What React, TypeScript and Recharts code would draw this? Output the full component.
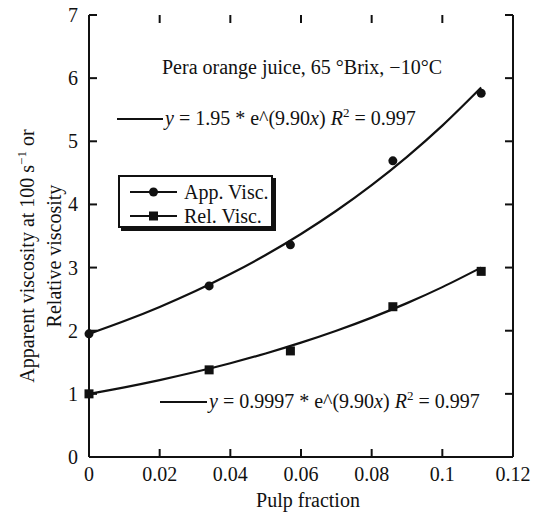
import { ComposedChart, Line, Scatter, XAxis, YAxis } from "recharts";

const pulpFraction = [0, 0.034, 0.057, 0.086, 0.111];
const appVisc = [1.95, 2.71, 3.36, 4.69, 5.76];
const relVisc = [1.0, 1.38, 1.68, 2.38, 2.94];

const xTicks = [0, 0.02, 0.04, 0.06, 0.08, 0.1, 0.12];
const yTicks = [0, 1, 2, 3, 4, 5, 6, 7];

// exponential fits y = a * e^(b x), coefficients as printed on the plot
const appFit = { a: 1.95, b: 9.9 };
const relFit = { a: 0.9997, b: 9.9 };
const fitX = [0, 0.01, 0.02, 0.03, 0.04, 0.05, 0.06, 0.07, 0.08, 0.09, 0.1, 0.111];

const appPoints = pulpFraction.map((x, i) => ({ x, y: appVisc[i] }));
const relPoints = pulpFraction.map((x, i) => ({ x, y: relVisc[i] }));
const appCurve = fitX.map((x) => ({ x, y: appFit.a * Math.exp(appFit.b * x) }));
const relCurve = fitX.map((x) => ({ x, y: relFit.a * Math.exp(relFit.b * x) }));

const X_MAX = 0.12;
const Y_MAX = 7;

const FONT = '"Liberation Serif", "Times New Roman", serif';
const INK = "#111";
const W = 535;
const H = 515;
const M = { top: 15, left: 89, right: 22, bottom: 58 };
const PLOT = { left: M.left, right: W - M.right, top: M.top, bottom: H - M.bottom };
const TICK = 8;

const sx = (v: number) => PLOT.left + (v / X_MAX) * (PLOT.right - PLOT.left);
const sy = (v: number) => PLOT.bottom - (v / Y_MAX) * (PLOT.bottom - PLOT.top);

// tick labels
const BottomTick = (p: any) => (
  <text x={p.payload.coordinate} y={PLOT.bottom + 24} textAnchor="middle" fontSize={20} fontFamily={FONT} fill={INK}>
    {p.payload.value}
  </text>
);
const LeftTick = (p: any) => (
  <text x={PLOT.left - 11} y={p.payload.coordinate + 7} textAnchor="end" fontSize={20} fontFamily={FONT} fill={INK}>
    {p.payload.value}
  </text>
);
const RightTick = (p: any) => (
  <text x={PLOT.right + 6} y={p.payload.coordinate + 7} textAnchor="start" fontSize={20} fontFamily={FONT} fill={INK}>
    {p.payload.value}
  </text>
);

// inward tick marks on all four sides of the frame
const FrameTicks = () => (
  <svg width={W} height={H} style={{ position: "absolute", left: 0, top: 0, pointerEvents: "none" }}>
    <g stroke={INK} strokeWidth={2}>
      {xTicks.map((v) => (
        <g key={`x${v}`}>
          <line x1={sx(v)} x2={sx(v)} y1={PLOT.bottom} y2={PLOT.bottom - TICK} />
          <line x1={sx(v)} x2={sx(v)} y1={PLOT.top} y2={PLOT.top + TICK} />
        </g>
      ))}
      {yTicks.map((v) => (
        <g key={`y${v}`}>
          <line x1={PLOT.left} x2={PLOT.left + TICK} y1={sy(v)} y2={sy(v)} />
          <line x1={PLOT.right} x2={PLOT.right - TICK} y1={sy(v)} y2={sy(v)} />
        </g>
      ))}
    </g>
  </svg>
);

const Dot = (p: any) => <circle cx={p.cx} cy={p.cy} r={4.5} fill={INK} />;
const Sq = (p: any) => <rect x={p.cx - 4.5} y={p.cy - 4.5} width={9} height={9} fill={INK} />;

const sup = { fontSize: 13, verticalAlign: 0, position: "relative" as const, top: -8 };

const Eq = ({ a }: { a: string }) => (
  <span>
    <i>y</i> = {a} * e^(9.90<i>x</i>) <i>R</i>
    <sup style={sup}>2</sup> = 0.997
  </span>
);

const LegendRow = ({ label, square }: { label: string; square?: boolean }) => (
  <div style={{ display: "flex", alignItems: "center", height: 24 }}>
    <svg width={54} height={12} style={{ marginLeft: 8 }}>
      <line x1={2} y1={6} x2={49} y2={6} stroke={INK} strokeWidth={2} />
      {square ? <rect x={21} y={1.5} width={9} height={9} fill={INK} /> : <circle cx={25.5} cy={6} r={4.5} fill={INK} />}
    </svg>
    <span style={{ marginLeft: 2 }}>{label}</span>
  </div>
);

const axisLine = { stroke: INK, strokeWidth: 2 };

export default function App() {
  return (
    <div style={{ position: "absolute", left: 0, top: 0, width: W, height: H, background: "#fff", fontFamily: FONT, fontSize: 20, color: INK }}>
      <ComposedChart width={W} height={H} margin={{ top: M.top, right: 0, bottom: 0, left: 0 }}>
        <XAxis xAxisId="b" dataKey="x" type="number" domain={[0, X_MAX]} ticks={xTicks} height={M.bottom}
          tickLine={false} tick={BottomTick} axisLine={axisLine} interval={0} />
        <XAxis xAxisId="t" orientation="top" dataKey="x" type="number" domain={[0, X_MAX]} ticks={xTicks} height={0}
          tickLine={false} tick={false} axisLine={axisLine} />
        <YAxis yAxisId="l" type="number" domain={[0, Y_MAX]} ticks={yTicks} width={M.left}
          tickLine={false} tick={LeftTick} axisLine={axisLine} interval={0} />
        <YAxis yAxisId="r" orientation="right" type="number" domain={[0, Y_MAX]} ticks={yTicks} width={M.right}
          tickLine={false} tick={RightTick} axisLine={axisLine} interval={0} />
        <Line xAxisId="b" yAxisId="l" data={appCurve} dataKey="y" type="monotone" stroke={INK} strokeWidth={2.2} dot={false} isAnimationActive={false} />
        <Line xAxisId="b" yAxisId="l" data={relCurve} dataKey="y" type="monotone" stroke={INK} strokeWidth={2.2} dot={false} isAnimationActive={false} />
        <Scatter xAxisId="b" yAxisId="l" data={appPoints} dataKey="y" shape={Dot} isAnimationActive={false} />
        <Scatter xAxisId="b" yAxisId="l" data={relPoints} dataKey="y" shape={Sq} isAnimationActive={false} />
      </ComposedChart>

      <FrameTicks />

      {/* annotations */}
      <div style={{ position: "absolute", left: 162, top: 56, whiteSpace: "nowrap" }}>Pera orange juice, 65 °Brix, −10°C</div>

      <div style={{ position: "absolute", left: 117, top: 107, display: "flex", alignItems: "center", whiteSpace: "nowrap" }}>
        <div style={{ width: 46, height: 0, borderTop: `2px solid ${INK}`, marginRight: 2 }} />
        <Eq a="1.95" />
      </div>
      <div style={{ position: "absolute", left: 160, top: 390, display: "flex", alignItems: "center", whiteSpace: "nowrap" }}>
        <div style={{ width: 47, height: 0, borderTop: `2px solid ${INK}`, marginRight: 2 }} />
        <Eq a="0.9997" />
      </div>

      {/* legend box with drop shadow */}
      <div
        style={{
          position: "absolute",
          left: 118,
          top: 175,
          width: 155,
          height: 53,
          border: `2px solid ${INK}`,
          boxShadow: `3px 3px 0 ${INK}`,
          background: "#fff",
          paddingTop: 3,
          boxSizing: "border-box",
          whiteSpace: "nowrap",
        }}
      >
        <LegendRow label="App. Visc." />
        <LegendRow label="Rel. Visc." square />
      </div>

      {/* axis titles */}
      <div style={{ position: "absolute", left: 308, top: 500, transform: "translate(-50%, -50%)", whiteSpace: "nowrap" }}>Pulp fraction</div>
      <div
        style={{
          position: "absolute",
          left: 40,
          top: 256,
          transform: "translate(-50%, -50%) rotate(-90deg)",
          textAlign: "center",
          whiteSpace: "nowrap",
          lineHeight: "24px",
        }}
      >
        Apparent viscosity at 100 s<sup style={sup}>−1</sup> or
        <br />
        Relative viscosity
      </div>
    </div>
  );
}
